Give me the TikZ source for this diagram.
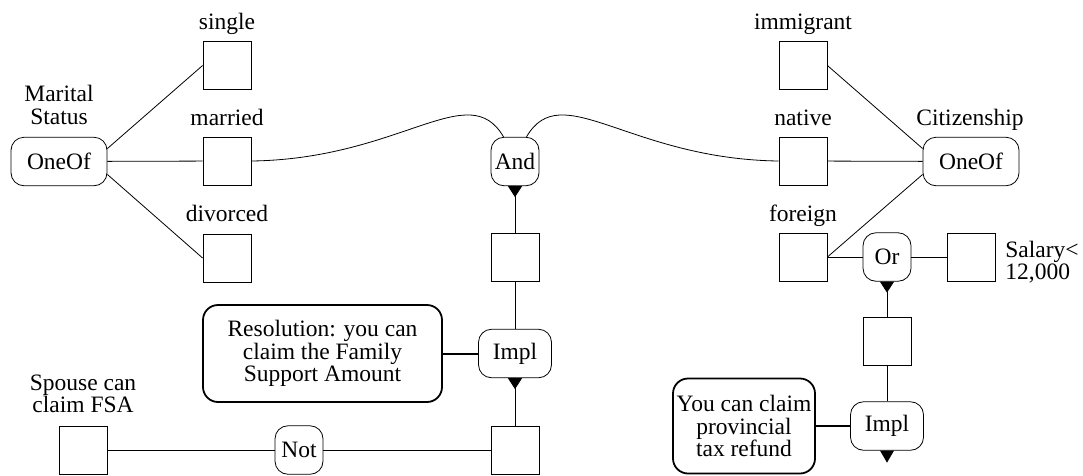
\documentclass[tikz,border=0pt]{standalone}
\usepackage{fontspec}
\setmainfont{Liberation Serif}
\usetikzlibrary{arrows.meta}
\tikzset{
  sq/.style={draw, minimum size=48pt, inner sep=0pt},
  op/.style={draw, rounded corners=13pt, minimum width=48pt, minimum height=48.5pt, inner sep=2pt},
  res/.style={draw, line width=1.8pt, rounded corners=15pt, align=center, inner sep=2pt},
  lbl/.style={inner sep=0pt},
  tri/.style={arrows={Triangle[reversed,width=14pt,length=11pt]}-}
}

\begin{document}
\begin{tikzpicture}[x=1pt, y=-1pt, line width=0.8pt, font=\fontsize{23.5}{22.5}\selectfont]
\useasboundingbox (0,0) rectangle (1083,475);
\node[op, minimum width=96pt] (ms) at (59,161.5) {OneOf};
\node[lbl, align=center] (mslbl) at (59,105) {Marital\\Status};
\node[sq] (single) at (227,65.5) {};
\node[sq] (married) at (227,161) {};
\node[sq] (divorced) at (227,258) {};
\node[lbl, anchor=base] (singlelbl) at (227,29) {single};
\node[lbl, anchor=base] (marriedlbl) at (227,125) {married};
\node[lbl, anchor=base] (divorcedlbl) at (227,221) {divorced};
\node[op] (and) at (515,161.5) {And};
\node[sq] (andsq) at (515,257) {};
\node[op, minimum width=73pt] (impl1) at (515,353.5) {Impl};
\node[res, minimum width=239pt, minimum height=97pt] (resbox) at (322.5,353.5) {Resolution: you can\\claim the Family\\Support Amount};
\node[sq] (spouse) at (83,450) {};
\node[lbl, align=center] (spouselbl) at (83,394) {Spouse can\\claim FSA};
\node[op] (not) at (299,450) {Not};
\node[sq] (botsq) at (515,450) {};
\node[op, minimum width=96pt] (cz) at (971,161.5) {OneOf};
\node[lbl, anchor=base] (czlbl) at (970,125) {Citizenship};
\node[sq] (immigrant) at (803,65.5) {};
\node[sq] (native) at (803,161) {};
\node[sq] (foreign) at (803,257) {};
\node[lbl, anchor=base] (immigrantlbl) at (803,29) {immigrant};
\node[lbl, anchor=base] (nativelbl) at (803,125) {native};
\node[lbl, anchor=base] (foreignlbl) at (803,221) {foreign};
\node[op] (or) at (887,257) {Or};
\node[sq] (salary) at (971,257) {};
\node[lbl, anchor=west, align=left] (salarylbl) at (1005,262) {Salary<\\12,000};
\node[sq] (orsq) at (887,341.5) {};
\node[op, minimum width=73pt] (impl2) at (887,426) {Impl};
\node[res, minimum width=142pt, minimum height=95pt] (provbox) at (744,426) {You can claim\\provincial\\tax refund};
\draw (ms.15) to (single.west);
\draw (ms) to (married);
\draw (ms.-15) to (divorced.west);
\draw (married.east) .. controls +(150,-2) and +(-35,-60) .. (and.115);
\draw (and.65) .. controls +(35,-60) and +(-150,-2) .. (native.west);
\draw (immigrant.east) to (cz.165);
\draw (native) to (cz);
\draw (foreign.east) to (cz.-165);
\foreach \i/\j in {and/andsq, impl1/botsq, or/orsq}
{
  \draw[tri] (\i) to (\j);
}
\foreach \i/\j in {andsq/impl1, spouse/not, not/botsq, foreign/or, or/salary, orsq/impl2}
{
  \draw (\i) to (\j);
}
\draw[line width=2pt] (resbox) to (impl1);
\draw[line width=2pt] (provbox) to (impl2);
\fill (impl2.south) ++(-7,0) -- ++(14,0) -- ++(-7,12) -- cycle;
\end{tikzpicture}
\end{document}
